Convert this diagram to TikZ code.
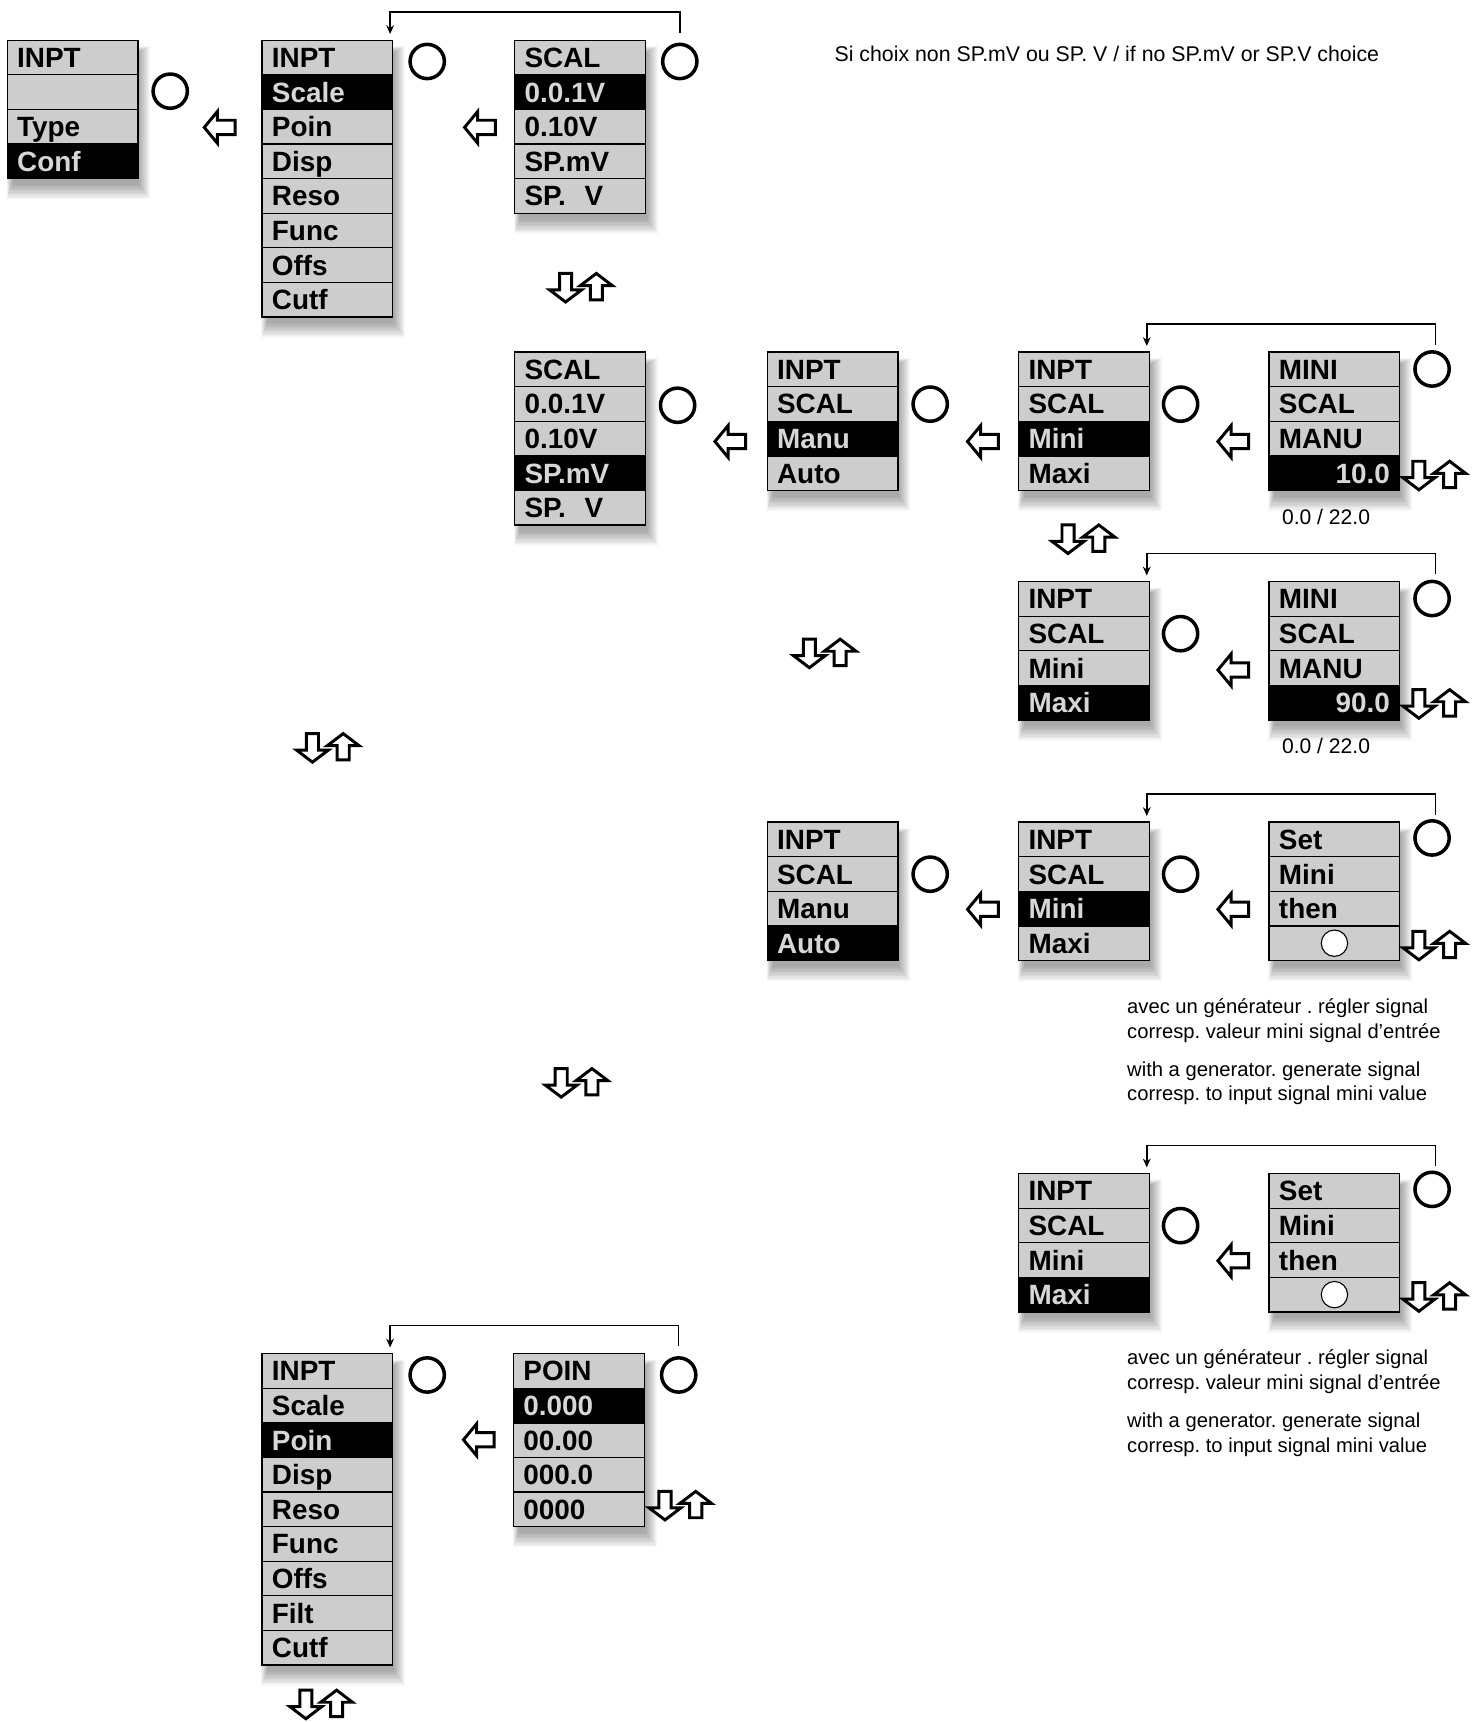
\documentclass[tikz,border=0pt]{standalone}
\usepackage{fontspec}
\setmainfont{Liberation Sans}
\usetikzlibrary{calc,arrows.meta}
\frenchspacing
\definecolor{rowgray}{RGB}{205,205,205}
\definecolor{seltext}{RGB}{215,215,215}
\tikzset{
 row/.style={draw=black, line width=0.6pt, fill=rowgray, anchor=north west,
   minimum width=59.5pt, minimum height=15.75pt, text width=50.5pt,
   inner xsep=4.5pt, inner ysep=0pt, align=left, text height=9.1pt, text depth=0pt,
   font=\bfseries\fontsize{12.7}{14}\selectfont},
 selrow/.style={row, fill=black, text=seltext},
 ring/.style={circle, draw, line width=1.6pt, minimum size=15.6pt, inner sep=0pt},
 fb/.style={draw, line width=0.7pt, -{Stealth[length=4pt,width=3.5pt]}},
 arr/.style={draw, line width=1.35pt, fill=white, line join=miter},
 note/.style={font=\fontsize{9.2}{11}\selectfont, anchor=base west, inner sep=0pt},
 la/.pic={\path[arr] (-14,0) -- (-2,-14.5) -- (-2,-6.5) -- (14,-6.5) -- (14,6.5) -- (-2,6.5) -- (-2,14.5) -- cycle;},
 ud/.pic={
   \path[arr] (-19,-13) -- (-8,-13) -- (-8,2) -- (1,2) -- (-13.5,13) -- (-28,2) -- (-19,2) -- cycle;
   \path[arr] (9,11) -- (20,11) -- (20,-2) -- (29,-2) -- (14.5,-13) -- (0,-2) -- (9,-2) -- cycle;}
}
\newcommand\boxshadow[4]{%
  \foreach \k in {1,...,12} {\fill[black, opacity=0.03] (#1+6-0.5*\k, #2+12-0.5*\k) rectangle (#3+1+0.9*\k, #4+5+1.2*\k);}%
}
\newcommand\menubox[6]{%
  \pgfmathsetmacro\mbbot{#3+#4*31.5}%
  \boxshadow{#2}{#3}{#2+119}{\mbbot}%
  \foreach \t [count=\i] in {#6} {%
    \pgfmathsetmacro\yy{#3+(\i-1)*31.5}%
    \ifnum\i=#5\relax
      \node[selrow] (#1-\i) at (#2,\yy) {\t};
    \else
      \node[row] (#1-\i) at (#2,\yy) {\t};
    \fi
  }%
}
\begin{document}
\begin{tikzpicture}[x=0.5pt,y=-0.5pt]
\useasboundingbox (0,0) rectangle (1347,1568);
\fill[white] (0,0) rectangle (1347,1568);

% ---- menu boxes
\menubox{A}{6}{36}{4}{4}{INPT,\mbox{},Type,Conf}
\menubox{B}{238}{36}{8}{2}{INPT,Scale,Poin,Disp,Reso,Func,Offs,Cutf}
\menubox{C}{468}{36}{5}{2}{SCAL,0.0.1V,0.10V,SP.mV,SP.\hspace{8.5pt}V}
\menubox{CC}{468}{320}{5}{4}{SCAL,0.0.1V,0.10V,SP.mV,SP.\hspace{8.5pt}V}
\menubox{D}{698}{320}{4}{3}{INPT,SCAL,Manu,Auto}
\menubox{E}{927}{320}{4}{3}{INPT,SCAL,Mini,Maxi}
\menubox{F}{1155}{320}{4}{4}{MINI,SCAL,MANU,\hspace*{0pt plus 1filll}10.0}
\menubox{G}{927}{529}{4}{4}{INPT,SCAL,Mini,Maxi}
\menubox{H}{1155}{529}{4}{4}{MINI,SCAL,MANU,\hspace*{0pt plus 1filll}90.0}
\menubox{J}{698}{748}{4}{4}{INPT,SCAL,Manu,Auto}
\menubox{K}{927}{748}{4}{3}{INPT,SCAL,Mini,Maxi}
\menubox{L}{1155}{748}{4}{0}{Set,Mini,then,\mbox{}}
\menubox{M}{927}{1068}{4}{4}{INPT,SCAL,Mini,Maxi}
\menubox{N}{1155}{1068}{4}{0}{Set,Mini,then,\mbox{}}
\menubox{P}{238}{1232}{9}{3}{INPT,Scale,Poin,Disp,Reso,Func,Offs,Filt,Cutf}
\menubox{Q}{467}{1232}{5}{2}{POIN,0.000,00.00,000.0,0000}

% small white circles in the "Set" boxes
\node[circle, draw, fill=white, line width=0.5pt, minimum size=12pt, inner sep=0pt] (wL) at (L-4.center) {};
\node[circle, draw, fill=white, line width=0.5pt, minimum size=12pt, inner sep=0pt] (wN) at (N-4.center) {};

% ---- circles (keys)
\node[ring] (cA) at (155,83) {};
\node[ring] (cB) at (389,56) {};
\node[ring] (cC) at (619,56) {};
\node[ring] (cCC) at (617,369) {};
\node[ring] (cD) at (847,368) {};
\node[ring] (cE) at (1075,368) {};
\node[ring] (cF) at (1304,336) {};
\node[ring] (cG) at (1075,577) {};
\node[ring] (cH) at (1304,545) {};
\node[ring] (cJ) at (847,796) {};
\node[ring] (cK) at (1075,796) {};
\node[ring] (cL) at (1304,763) {};
\node[ring] (cM) at (1075,1116) {};
\node[ring] (cN) at (1304,1083) {};
\node[ring] (cP) at (389,1252) {};
\node[ring] (cQ) at (618,1252) {};

% ---- left block arrows
\pic at (200,116) {la};
\pic at (437,116) {la};
\pic at (665,402) {la};
\pic at (895,402) {la};
\pic at (1123,402) {la};
\pic at (1123,610) {la};
\pic at (895,828) {la};
\pic at (1123,828) {la};
\pic at (1123,1148) {la};
\pic at (436,1311) {la};

% ---- up/down arrow pairs
\pic at (528.5,262) {ud};
\pic at (986,491) {ud};
\pic at (750.5,595) {ud};
\pic at (298,681) {ud};
\pic at (524.5,986) {ud};
\pic at (292,1552) {ud};
\pic at (1305.5,433) {ud};
\pic at (1305.5,641) {ud};
\pic at (1305.5,861) {ud};
\pic at (1305.5,1181) {ud};
\pic at (619,1371) {ud};

% ---- feedback connectors
\draw[fb] ($(cC.center |- C-1.north)+(0,-6)$) -- ++(0,-19) -| ($(B-1.north east)+(-3,-5)$);
\draw[fb] ($(cF.center |- F-1.north)+(3,-6)$) -- ++(0,-19) -| ($(E-1.north east)+(-3,-5)$);
\draw[fb] ($(cH.center |- H-1.north)+(3,-6)$) -- ++(0,-19) -| ($(G-1.north east)+(-3,-5)$);
\draw[fb] ($(cL.center |- L-1.north)+(3,-6)$) -- ++(0,-19) -| ($(K-1.north east)+(-3,-5)$);
\draw[fb] ($(cN.center |- N-1.north)+(3,-6)$) -- ++(0,-19) -| ($(M-1.north east)+(-3,-5)$);
\draw[fb] ($(cQ.center |- Q-1.north)+(0,-6)$) -- ++(0,-19) -| ($(P-1.north east)+(-3,-5)$);

% ---- texts
\node[note, font=\fontsize{9.7}{11}\selectfont] (t0) at (759.6,56) {Si choix non SP.mV ou SP. V / if no SP.mV or SP.V choice};
\node[note, font=\fontsize{9.6}{11}\selectfont] (rF) at (1167,478) {0.0 / 22.0};
\node[note, font=\fontsize{9.6}{11}\selectfont] (rH) at (1167,686) {0.0 / 22.0};

\node[note] (l1) at (1026,922.5) {avec un générateur . régler signal};
\node[note] (l2) at (1026,945.5) {corresp. valeur mini signal d’entrée};
\node[note] (l3) at (1026,980) {with a generator. generate signal};
\node[note] (l4) at (1026,1002.5) {corresp. to input signal mini value};

\node[note] (m1) at (1026,1242.5) {avec un générateur . régler signal};
\node[note] (m2) at (1026,1265.5) {corresp. valeur mini signal d’entrée};
\node[note] (m3) at (1026,1300) {with a generator. generate signal};
\node[note] (m4) at (1026,1322.5) {corresp. to input signal mini value};
\end{tikzpicture}
\end{document}
